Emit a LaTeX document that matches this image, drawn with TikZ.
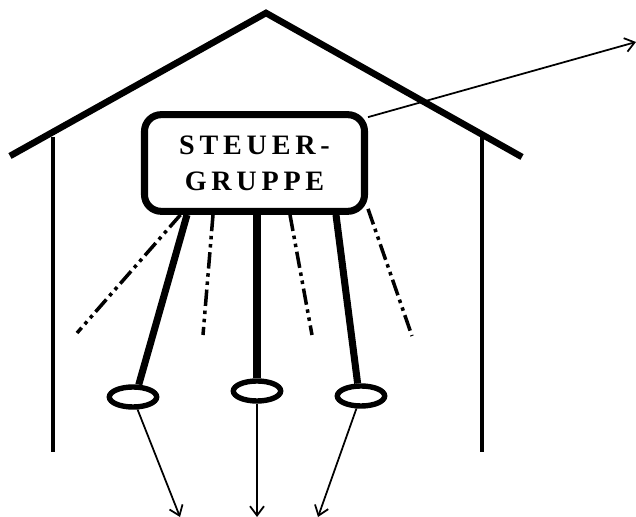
\documentclass[tikz,border=0pt]{standalone}
\usepackage{fontspec}
\setmainfont{Liberation Serif}
\usetikzlibrary{positioning}
\usetikzlibrary{shapes.geometric}
\usetikzlibrary{arrows.meta}

\begin{document}
\begin{tikzpicture}[x=0.03cm, y=-0.03cm,
  roof/.style={line width=5.6pt},
  wall/.style={line width=2.6pt},
  stem/.style={line width=6pt},
  dashdot/.style={line width=3pt, dash pattern=on 14pt off 4pt on 3pt off 4pt on 3pt off 4pt},
  link/.style={line width=1.5pt, -{Straight Barb[length=2.8mm, width=4.2mm]}},
  ring/.style={draw, ellipse, line width=4.6pt, minimum width=1.42cm, minimum height=0.6cm, inner sep=0pt}]

\useasboundingbox (0,0) rectangle (636,517);

% house
\coordinate (roofL) at (10,156);
\coordinate (apex) at (266,13);
\coordinate (roofR) at (522,157);
\draw [roof] (roofL) -- (apex) -- (roofR);
\coordinate (wallLt) at (53,137);
\coordinate (wallLb) at (53,452);
\coordinate (wallRt) at (482,137);
\coordinate (wallRb) at (482,452);
\draw [wall] (wallLt) -- (wallLb);
\draw [wall] (wallRt) -- (wallRb);

% steering group
\node [draw, line width=6pt, rounded corners=0.5cm, minimum width=6.6cm, minimum height=2.9cm,
       align=center, font=\bfseries\fontsize{24}{31}\selectfont\addfontfeature{LetterSpace=17}]
  (box) at (254.5,163) {STEUER-\\GRUPPE};

% groups
\node [ring] (g1) at (133,397) {};
\node [ring] (g2) at (257,391) {};
\node [ring] (g3) at (361,396) {};

\draw [stem] (box.south -| 187,0) -- (g1.65);
\draw [stem] (box.south -| g2) -- (g2.north);
\draw [stem] (box.south -| 336,0) -- (g3.105);

\coordinate (d1) at (77,333);
\coordinate (d2) at (203,335);
\coordinate (d3) at (312,335);
\coordinate (d4) at (412,336);
\draw [dashdot] (box.215) -- (d1);
\draw [dashdot] (box.south -| 213,0) -- (d2);
\draw [dashdot] (box.south -| 290,0) -- (d3);
\draw [dashdot] (box.338) -- (d4);

\coordinate (o1) at (180,517);
\coordinate (o2) at (257,517);
\coordinate (o3) at (318,517);
\coordinate (out) at (636,42);
\draw [link] (g1.-70) -- (o1);
\draw [link] (g2.south) -- (o2);
\draw [link] (g3.-110) -- (o3);
\draw [link] (box.22) -- (out);

\end{tikzpicture}
\end{document}
